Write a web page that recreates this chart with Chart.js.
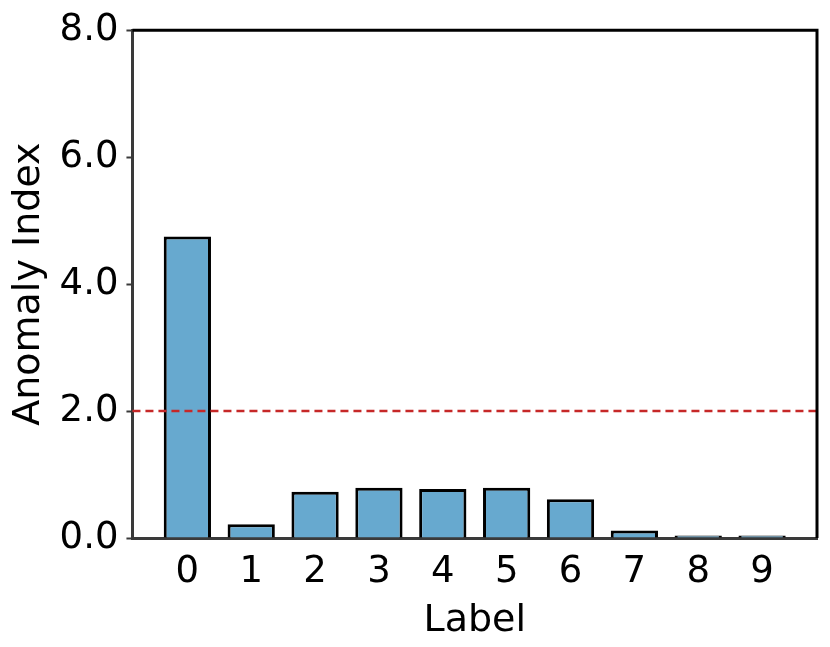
<!DOCTYPE html>
<html>
<head>
<meta charset="utf-8">
<script src="https://cdn.jsdelivr.net/npm/chart.js@4/dist/chart.umd.min.js"></script>
<style>
  html, body { margin: 0; padding: 0; background: #fff; }
  #wrap { width: 830px; height: 647px; }
</style>
</head>
<body>
<div id="wrap"><canvas id="grafico" width="830" height="647"></canvas></div>
<script>
// datos
const categorias = ['0', '1', '2', '3', '4', '5', '6', '7', '8', '9'];
const valores = [4.75, 0.215, 0.73, 0.79, 0.77, 0.79, 0.61, 0.12, 0.04, 0.04];
const umbral = 2.0;
const ticksY = [0, 2, 4, 6, 8];

const fuente = "'DejaVu Sans', sans-serif";

// marco superior/derecho + linea de umbral
const marco = {
  id: 'marco',
  afterDatasetsDraw(chart) {
    const { ctx, chartArea: a, scales } = chart;
    const yU = scales.y.getPixelForValue(umbral);
    ctx.save();
    ctx.strokeStyle = '#c62828';
    ctx.lineWidth = 2.5;
    ctx.setLineDash([8, 5]);
    ctx.beginPath();
    ctx.moveTo(a.left, yU);
    ctx.lineTo(a.right, yU);
    ctx.stroke();
    ctx.setLineDash([]);
    ctx.strokeStyle = '#000';
    ctx.lineWidth = 3;
    ctx.beginPath();
    ctx.moveTo(a.left, a.top);
    ctx.lineTo(a.right, a.top);
    ctx.lineTo(a.right, a.bottom);
    ctx.stroke();
    ctx.restore();
  }
};

new Chart(document.getElementById('grafico'), {
  type: 'bar',
  data: {
    datasets: [{
      data: valores.map((v, i) => ({ x: i, y: v })),
      backgroundColor: '#67a9cf',
      borderColor: '#000',
      borderWidth: 3,
      borderSkipped: 'bottom',
      barPercentage: 0.74,
      categoryPercentage: 1
    }]
  },
  options: {
    responsive: false,
    animation: false,
    layout: { padding: { top: 22, right: 13, left: 0, bottom: 0 } },
    plugins: { legend: { display: false }, tooltip: { enabled: false } },
    scales: {
      x: {
        type: 'linear',
        offset: false,
        min: -0.86,
        max: 9.86,
        afterBuildTicks: s => { s.ticks = categorias.map((c, i) => ({ value: i })); },
        ticks: {
          autoSkip: false,
          maxRotation: 0,
          color: '#000',
          font: { family: fuente, size: 37 },
          padding: 4,
          callback: (v, i) => categorias[i]
        },
        grid: { display: false },
        border: { display: true, color: '#3a3a3a', width: 3 },
        title: {
          display: true,
          text: 'Label',
          color: '#000',
          font: { family: fuente, size: 38 },
          padding: { top: 0, bottom: 3 }
        }
      },
      y: {
        min: 0,
        max: 8,
        afterBuildTicks: s => { s.ticks = ticksY.map(v => ({ value: v })); },
        ticks: {
          color: '#000',
          font: { family: fuente, size: 37 },
          padding: 8,
          callback: v => v.toFixed(1)
        },
        grid: { drawOnChartArea: false, drawTicks: true, tickLength: 6, tickColor: '#3a3a3a', tickWidth: 2 },
        border: { display: true, color: '#3a3a3a', width: 3 },
        title: {
          display: true,
          text: 'Anomaly Index',
          color: '#000',
          font: { family: fuente, size: 38 },
          padding: { top: 6, bottom: 0 }
        }
      }
    }
  },
  plugins: [marco]
});
</script>
</body>
</html>
